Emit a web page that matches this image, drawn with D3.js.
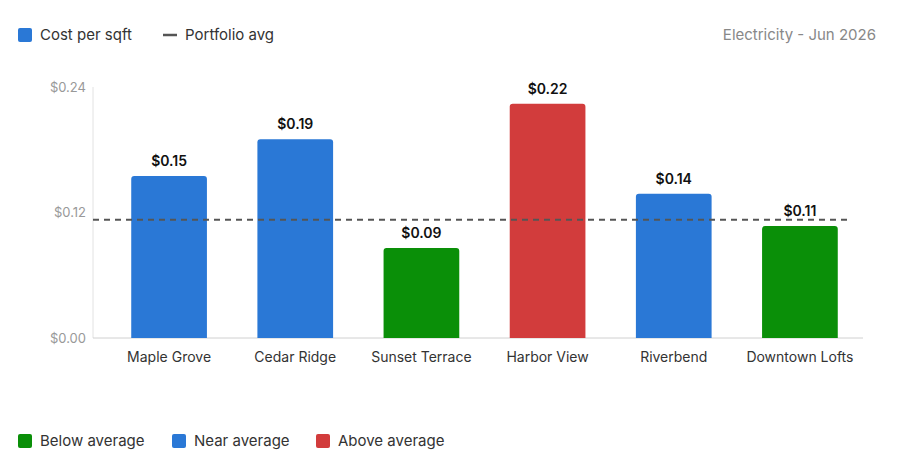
<!DOCTYPE html><html><head><meta charset="utf-8"><script src="https://cdn.jsdelivr.net/npm/d3@7"></script>
<style>body{margin:0;background:#fff}text{font-family:Inter,"Noto Sans",sans-serif}</style></head><body><svg id="c" width="900" height="475"></svg>
<script>
const categories=["Maple Grove","Cedar Ridge","Sunset Terrace","Harbor View","Riverbend","Downtown Lofts"];
const values=[0.155,0.19,0.086,0.224,0.138,0.107];
const groups=["near","near","below","above","near","below"];
const portfolioAvg=0.113;
const yTicks=[0,0.12,0.24];
const colors={below:"#0a8f08",near:"#2a78d6",above:"#d23c3c"};
const svg=d3.select("#c");
const x=d3.scaleBand().domain(categories).range([106,863]).paddingInner(0.4).paddingOuter(0.2);
const y=d3.scaleLinear().domain([0,0.24]).range([338,87]);
// y axis
svg.append("line").attr("x1",93).attr("x2",93).attr("y1",y(0.24)).attr("y2",y(0)).attr("stroke","#e2e2e2");
svg.append("line").attr("x1",93).attr("x2",863).attr("y1",y(0)).attr("y2",y(0)).attr("stroke","#d0d0d0");
svg.selectAll(".yt").data(yTicks).join("text").attr("x",86).attr("y",d=>y(d)).attr("dy","0.35em").attr("text-anchor","end").attr("font-size",13).attr("fill","#999").text(d=>"$"+d.toFixed(2));
svg.selectAll(".xt").data(categories).join("text").attr("x",d=>x(d)+x.bandwidth()/2).attr("y",362).attr("text-anchor","middle").attr("font-size",14).attr("fill","#333").text(d=>d);
svg.selectAll(".bar").data(categories).join("path").attr("fill",(d,i)=>colors[groups[i]]).attr("d",(d,i)=>{
 const x0=x(d),w=x.bandwidth(),t=y(values[i]),b=y(0),r=3;
 return `M${x0},${b}V${t+r}Q${x0},${t} ${x0+r},${t}H${x0+w-r}Q${x0+w},${t} ${x0+w},${t+r}V${b}Z`;});
svg.selectAll(".vl").data(categories).join("text").attr("x",d=>x(d)+x.bandwidth()/2).attr("y",(d,i)=>y(values[i])-10).attr("text-anchor","middle").attr("font-size",14).attr("font-weight",600).attr("fill","#111").text((d,i)=>"$"+values[i].toFixed(2));
svg.append("line").attr("x1",93).attr("x2",850).attr("y1",y(portfolioAvg)).attr("y2",y(portfolioAvg)).attr("stroke","#555").attr("stroke-width",2).attr("stroke-dasharray","6,5");
// top legend
svg.append("rect").attr("x",18).attr("y",28).attr("width",14).attr("height",14).attr("rx",2).attr("fill",colors.near);
svg.append("text").attr("x",40).attr("y",35).attr("dy","0.35em").attr("font-size",15).attr("fill","#333").text("Cost per sqft");
svg.append("line").attr("x1",163).attr("x2",177).attr("y1",35).attr("y2",35).attr("stroke","#555").attr("stroke-width",2.5);
svg.append("text").attr("x",185).attr("y",35).attr("dy","0.35em").attr("font-size",15).attr("fill","#333").text("Portfolio avg");
svg.append("text").attr("x",876).attr("y",35).attr("dy","0.35em").attr("text-anchor","end").attr("font-size",15).attr("fill","#888").text("Electricity - Jun 2026");
// bottom legend
const bl=[["Below average","below",18],["Near average","near",172],["Above average","above",316]];
bl.forEach(([t,k,px])=>{svg.append("rect").attr("x",px).attr("y",434).attr("width",14).attr("height",14).attr("rx",2).attr("fill",colors[k]);
svg.append("text").attr("x",px+22).attr("y",441).attr("dy","0.35em").attr("font-size",15).attr("fill","#333").text(t);});
</script></body></html>
